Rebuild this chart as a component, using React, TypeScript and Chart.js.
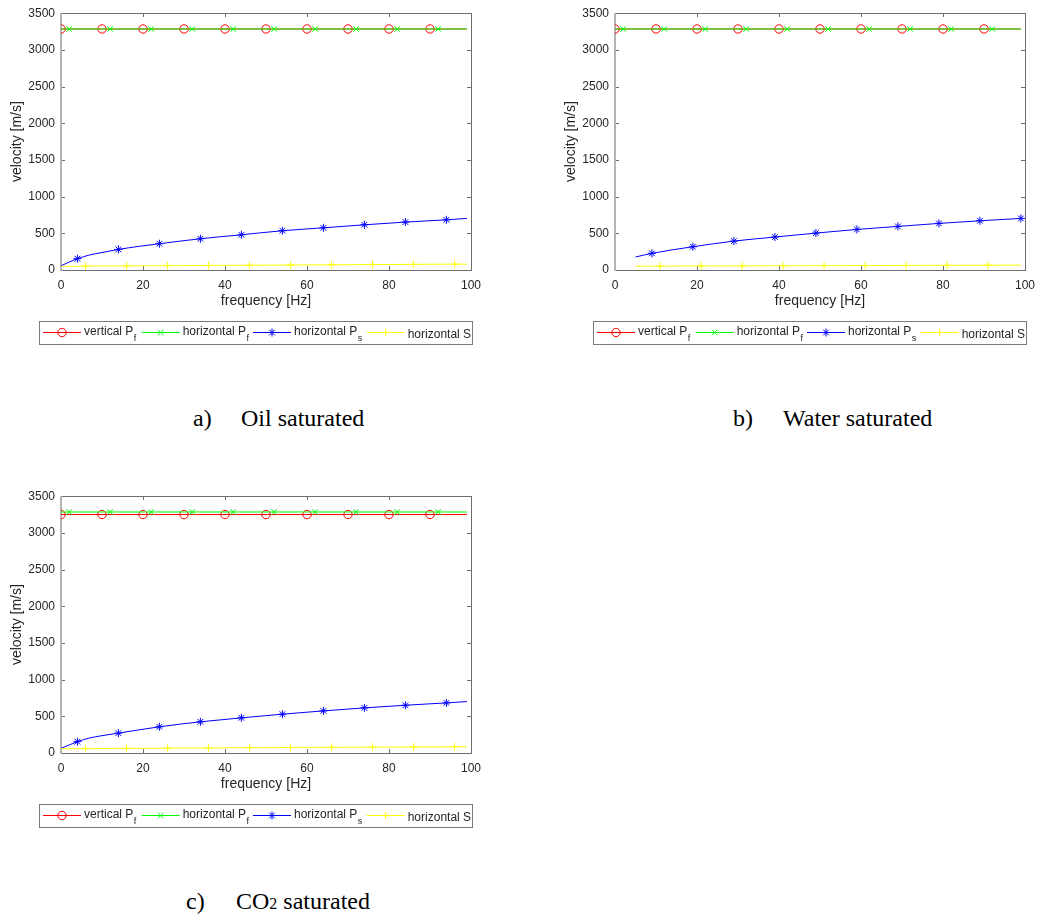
import React, { useEffect, useRef } from 'react';
import { Chart, registerables } from 'chart.js';

Chart.register(...registerables);

// ---------- axes / labels ----------
const xTicks = [0, 20, 40, 60, 80, 100];
const yTicks = [0, 500, 1000, 1500, 2000, 2500, 3000, 3500];
const xTitle = 'frequency [Hz]';
const yTitle = 'velocity [m/s]';

const seriesNames = [
  { main: 'vertical P', sub: 'f' },
  { main: 'horizontal P', sub: 'f' },
  { main: 'horizontal P', sub: 's' },
  { main: 'horizontal S', sub: '' },
];

// ---------- marker positions (frequency, Hz) ----------
const markVertPf = [0, 10, 20, 30, 40, 50, 60, 70, 80, 90];
const markHorPf = [2, 12, 22, 32, 42, 52, 62, 72, 82, 92];
const markPsOil = [4, 14, 24, 34, 44, 54, 64, 74, 84, 94];
const markSOil = [6, 16, 26, 36, 46, 56, 66, 76, 86, 96];
const markPsWater = [9, 19, 29, 39, 49, 59, 69, 79, 89, 99];
const markSWater = [11, 21, 31, 41, 51, 61, 71, 81, 91];

// ---------- shared frequency samples ----------
const freqVertPf = [0, 10, 20, 30, 40, 50, 60, 70, 80, 90, 99];
const freqHorPf = [0, 2, 12, 22, 32, 42, 52, 62, 72, 82, 92, 99];
const freqPsFull = [0, 2, 4, 7, 10, 14, 19, 24, 29, 34, 44, 54, 64, 74, 84, 94, 99];
const freqSFull = [0, 6, 16, 26, 36, 46, 56, 66, 76, 86, 96, 99];
const freqPsWater = [5, 9, 19, 29, 39, 49, 59, 69, 79, 89, 99];
const freqSWater = [5, 11, 21, 31, 41, 51, 61, 71, 81, 91, 99];

// ---------- a) Oil saturated ----------
const oilVertPf = [3285, 3285, 3285, 3285, 3285, 3285, 3285, 3285, 3285, 3285, 3285];
const oilHorPf = [3285, 3285, 3285, 3285, 3285, 3285, 3285, 3285, 3285, 3285, 3285, 3285];
const oilHorPs = [58, 108, 154, 205, 238, 281, 322, 358, 393, 426, 480, 535, 575, 616, 653, 684, 703];
const oilHorS = [50, 53, 56, 59, 62, 65, 68, 71, 74, 77, 80, 80];

// ---------- b) Water saturated ----------
const waterVertPf = [3285, 3285, 3285, 3285, 3285, 3285, 3285, 3285, 3285, 3285, 3285];
const waterHorPf = [3285, 3285, 3285, 3285, 3285, 3285, 3285, 3285, 3285, 3285, 3285, 3285];
const waterHorPs = [177, 227, 317, 394, 449, 503, 553, 594, 635, 671, 703];
const waterHorS = [52, 53, 55, 56, 58, 59, 61, 62, 64, 65, 67];

// ---------- c) CO2 saturated ----------
const co2VertPf = [3250, 3250, 3250, 3250, 3250, 3250, 3250, 3250, 3250, 3250, 3250];
const co2HorPf = [3285, 3285, 3285, 3285, 3285, 3285, 3285, 3285, 3285, 3285, 3285, 3285];
const co2HorPs = [63, 110, 154, 205, 236, 271, 315, 357, 393, 425, 479, 529, 574, 615, 651, 683, 701];
const co2HorS = [57, 60, 63, 66, 69, 72, 75, 78, 80, 82, 85, 85];

// ---------- styles ----------
const COLORS = ['#ff0000', '#00ff00', '#0000ff', '#ffff00'];
const STYLES = ['circle', 'crossRot', 'star', 'cross'];
const RADII = [4.2, 4, 4, 3.8];
const AXIS_COLOR = '#6e6e6e';
const LEFT_AXIS_COLOR = '#b4b4b4';
const TEXT_COLOR = '#262626';
const FONT = "'Liberation Sans', Arial, Helvetica, sans-serif";

// ---------- layout ----------
const CANVAS_W = 496;
const CANVAS_H = 360;
const PAD_TOP = 13;
const Y_AXIS_W = 61;
const PAD_RIGHT = 25;
const X_AXIS_H = 40;
const PAD_BOTTOM = 50;
const LEGEND_BOX = { left: 39, top: 321, width: 433, height: 23 };
const LEGEND_LINE_Y = 332;
const LEGEND_ITEM_X = [43, 141.7, 253, 366.7];
const LEGEND_LINE_LEN = 38;
const LEGEND_TEXT_DX = 41;

function drawMarker(ctx: CanvasRenderingContext2D, style: string, x: number, y: number, r: number) {
  ctx.beginPath();
  const d = r * Math.SQRT1_2;
  if (style === 'circle') {
    ctx.arc(x, y, r, 0, Math.PI * 2);
  } else if (style === 'crossRot') {
    ctx.moveTo(x - d, y - d); ctx.lineTo(x + d, y + d);
    ctx.moveTo(x - d, y + d); ctx.lineTo(x + d, y - d);
  } else if (style === 'star') {
    ctx.moveTo(x - r, y); ctx.lineTo(x + r, y);
    ctx.moveTo(x, y - r); ctx.lineTo(x, y + r);
    ctx.moveTo(x - d, y - d); ctx.lineTo(x + d, y + d);
    ctx.moveTo(x - d, y + d); ctx.lineTo(x + d, y - d);
  } else {
    ctx.moveTo(x - r, y); ctx.lineTo(x + r, y);
    ctx.moveTo(x, y - r); ctx.lineTo(x, y + r);
  }
  ctx.stroke();
}

const frameLegendPlugin = {
  id: 'frameLegend',
  beforeDatasetsDraw(chart: any) {
    const { ctx, chartArea: a, scales } = chart;
    const L = Math.round(a.left), R = Math.round(a.right), T = Math.round(a.top), B = Math.round(a.bottom);
    ctx.save();
    ctx.strokeStyle = AXIS_COLOR;
    ctx.lineWidth = 1;
    ctx.beginPath();
    ctx.moveTo(L, T + 0.5); ctx.lineTo(R + 1, T + 0.5);
    ctx.moveTo(R + 0.5, T); ctx.lineTo(R + 0.5, B + 1);
    ctx.moveTo(L, B + 0.5); ctx.lineTo(R + 1, B + 0.5);
    for (const t of scales.x.ticks) {
      const px = Math.round(scales.x.getPixelForValue(t.value)) + 0.5;
      ctx.moveTo(px, B); ctx.lineTo(px, B - 4);
      ctx.moveTo(px, T); ctx.lineTo(px, T + 4);
    }
    for (const t of scales.y.ticks) {
      const py = Math.round(scales.y.getPixelForValue(t.value)) + 0.5;
      ctx.moveTo(L, py); ctx.lineTo(L + 4, py);
      ctx.moveTo(R, py); ctx.lineTo(R - 4, py);
    }
    ctx.stroke();
    ctx.strokeStyle = LEFT_AXIS_COLOR;
    ctx.lineWidth = 2;
    ctx.beginPath();
    ctx.moveTo(L, T); ctx.lineTo(L, B + 1);
    ctx.stroke();
    ctx.restore();
  },
  afterDraw(chart: any) {
    const { ctx } = chart;
    ctx.save();
    ctx.fillStyle = '#ffffff';
    ctx.fillRect(LEGEND_BOX.left, LEGEND_BOX.top, LEGEND_BOX.width, LEGEND_BOX.height);
    ctx.strokeStyle = '#7a7a7a';
    ctx.lineWidth = 1;
    ctx.strokeRect(LEGEND_BOX.left + 0.5, LEGEND_BOX.top + 0.5, LEGEND_BOX.width, LEGEND_BOX.height);
    seriesNames.forEach((name, i) => {
      const x0 = LEGEND_ITEM_X[i];
      ctx.fillStyle = COLORS[i];
      ctx.fillRect(x0, LEGEND_LINE_Y, LEGEND_LINE_LEN, 1);
      ctx.strokeStyle = COLORS[i];
      ctx.lineWidth = 1;
      drawMarker(ctx, STYLES[i], x0 + LEGEND_LINE_LEN / 2, LEGEND_LINE_Y + 0.5, RADII[i]);
      ctx.fillStyle = TEXT_COLOR;
      ctx.textAlign = 'left';
      ctx.textBaseline = 'alphabetic';
      ctx.font = `12px ${FONT}`;
      const tx = x0 + LEGEND_TEXT_DX;
      if (name.sub) {
        ctx.fillText(name.main, tx, 334.5);
        const w = ctx.measureText(name.main).width;
        ctx.font = `9px ${FONT}`;
        ctx.fillText(name.sub, tx + w + 0.5, 340.5);
      } else {
        ctx.fillText(name.main, tx, 337.5);
      }
    });
    ctx.restore();
  },
};

function series(freq: number[], vals: number[], idx: number, marks: number[]) {
  return {
    data: freq.map((f, i) => ({ x: f, y: vals[i] })),
    borderColor: COLORS[idx],
    backgroundColor: 'rgba(0,0,0,0)',
    borderWidth: 1,
    pointStyle: STYLES[idx],
    pointBorderColor: COLORS[idx],
    pointBackgroundColor: 'rgba(0,0,0,0)',
    pointBorderWidth: 1,
    pointRadius: freq.map((f) => (marks.includes(f) ? RADII[idx] : 0)),
    pointHoverRadius: 0,
    cubicInterpolationMode: 'monotone',
    fill: false,
    order: 4 - idx,
  };
}

function Panel({ left, top, datasets }: { left: number; top: number; datasets: any[] }) {
  const ref = useRef<HTMLCanvasElement>(null);
  useEffect(() => {
    const chart = new Chart(ref.current as HTMLCanvasElement, {
      type: 'line',
      data: { datasets },
      options: {
        animation: false,
        responsive: false,
        devicePixelRatio: 1,
        events: [],
        layout: { padding: { left: 0, top: PAD_TOP, right: PAD_RIGHT, bottom: PAD_BOTTOM } },
        plugins: { legend: { display: false }, tooltip: { enabled: false }, title: { display: false } },
        scales: {
          x: {
            type: 'linear',
            min: 0,
            max: 100,
            afterBuildTicks: (s: any) => { s.ticks = xTicks.map((v) => ({ value: v })); },
            afterFit: (s: any) => { s.height = X_AXIS_H; },
            grid: { display: false, drawTicks: false },
            border: { display: false },
            ticks: { padding: 8, color: TEXT_COLOR, font: { family: FONT, size: 12 }, maxRotation: 0, autoSkip: false, callback: (v: any) => String(v) },
            title: { display: true, text: xTitle, color: TEXT_COLOR, font: { family: FONT, size: 14 }, padding: { top: 0, bottom: 0 } },
          },
          y: {
            type: 'linear',
            min: 0,
            max: 3500,
            afterBuildTicks: (s: any) => { s.ticks = yTicks.map((v) => ({ value: v })); },
            afterFit: (s: any) => { s.width = Y_AXIS_W; },
            grid: { display: false, drawTicks: false },
            border: { display: false },
            ticks: { padding: 6, color: TEXT_COLOR, font: { family: FONT, size: 12 }, autoSkip: false, callback: (v: any) => String(v) },
            title: { display: true, text: yTitle, color: TEXT_COLOR, font: { family: FONT, size: 14 }, padding: { top: 9, bottom: 0 } },
          },
        },
      } as any,
      plugins: [frameLegendPlugin],
    });
    return () => chart.destroy();
  }, []);
  return (
    <div style={{ position: 'absolute', left, top, width: CANVAS_W, height: CANVAS_H }}>
      <canvas ref={ref} width={CANVAS_W} height={CANVAS_H} style={{ display: 'block' }} />
    </div>
  );
}

function Caption({ left, top, label, labelLeft, children }: any) {
  const base = { position: 'absolute' as const, top, fontFamily: "'Liberation Serif', 'Times New Roman', serif", fontSize: 24, lineHeight: '24px', color: '#000', whiteSpace: 'nowrap' as const };
  return (
    <>
      <div style={{ ...base, left: labelLeft }}>{label}</div>
      <div style={{ ...base, left }}>{children}</div>
    </>
  );
}

const oilSets = [
  series(freqVertPf, oilVertPf, 0, markVertPf),
  series(freqHorPf, oilHorPf, 1, markHorPf),
  series(freqPsFull, oilHorPs, 2, markPsOil),
  series(freqSFull, oilHorS, 3, markSOil),
];
const waterSets = [
  series(freqVertPf, waterVertPf, 0, markVertPf),
  series(freqHorPf, waterHorPf, 1, markHorPf),
  series(freqPsWater, waterHorPs, 2, markPsWater),
  series(freqSWater, waterHorS, 3, markSWater),
];
const co2Sets = [
  series(freqVertPf, co2VertPf, 0, markVertPf),
  series(freqHorPf, co2HorPf, 1, markHorPf),
  series(freqPsFull, co2HorPs, 2, markPsOil),
  series(freqSFull, co2HorS, 3, markSOil),
];

export default function App() {
  return (
    <div style={{ position: 'absolute', left: 0, top: 0, width: 1038, height: 915, overflow: 'hidden', background: '#fff' }}>
      <Panel left={0} top={0} datasets={oilSets} />
      <Panel left={554} top={0} datasets={waterSets} />
      <Panel left={0} top={483} datasets={co2Sets} />
      <Caption labelLeft={193} left={241} top={406} label="a)">Oil saturated</Caption>
      <Caption labelLeft={733} left={783} top={406} label="b)">Water saturated</Caption>
      <Caption labelLeft={186} left={236} top={889} label="c)">
        CO<span style={{ fontSize: 16 }}>2</span> saturated
      </Caption>
    </div>
  );
}
